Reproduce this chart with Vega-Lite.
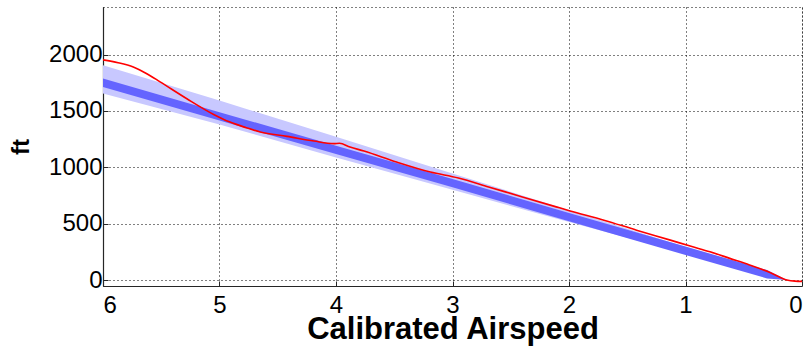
{
  "$schema": "https://vega.github.io/schema/vega-lite/v6.json",
  "width": 699,
  "height": 279,
  "autosize": {"type": "none"},
  "padding": {"left": 103, "top": 7, "right": 7, "bottom": 65},
  "background": "white",
  "config": {
    "font": "Liberation Sans",
    "view": {"stroke": "#000000", "strokeDash": [1, 3], "strokeWidth": 1},
    "axis": {
      "grid": true,
      "gridColor": "#000000",
      "gridDash": [1, 3],
      "gridOpacity": 1,
      "gridWidth": 1,
      "domainColor": "#262626",
      "domainWidth": 1.2,
      "tickColor": "#262626",
      "tickSize": -5,
      "labelFontSize": 24,
      "labelColor": "#000000",
      "titleFontWeight": "bold",
      "titleColor": "#000000",
      "format": "d"
    }
  },
  "datasets": {
    "band": [
      {"x": 6, "lo": 1655, "hi": 1905},
      {"x": 5, "lo": 1380, "hi": 1592},
      {"x": 4, "lo": 1088, "hi": 1270},
      {"x": 3, "lo": 800, "hi": 945},
      {"x": 2, "lo": 515, "hi": 620},
      {"x": 1, "lo": 235, "hi": 292},
      {"x": 0.5, "lo": 95, "hi": 130},
      {"x": 0.12, "lo": 0, "hi": 0}
    ],
    "dark": [
      {"x": 6, "lo": 1713, "hi": 1787},
      {"x": 5, "lo": 1415, "hi": 1489},
      {"x": 4, "lo": 1117, "hi": 1191},
      {"x": 3, "lo": 822, "hi": 896},
      {"x": 2, "lo": 521, "hi": 595},
      {"x": 1, "lo": 223, "hi": 297},
      {"x": 0.3, "lo": 14, "hi": 88},
      {"x": 0.13, "lo": 0, "hi": 0}
    ],
    "red": [
      {"x": 6, "y": 1953},
      {"x": 5.87, "y": 1928},
      {"x": 5.74, "y": 1890},
      {"x": 5.62, "y": 1828},
      {"x": 5.51, "y": 1758},
      {"x": 5.28, "y": 1608},
      {"x": 5.05, "y": 1469},
      {"x": 4.91, "y": 1401},
      {"x": 4.77, "y": 1351},
      {"x": 4.65, "y": 1313},
      {"x": 4.42, "y": 1274},
      {"x": 4.19, "y": 1233},
      {"x": 4.02, "y": 1210},
      {"x": 3.97, "y": 1213},
      {"x": 3.88, "y": 1180},
      {"x": 3.76, "y": 1144},
      {"x": 3.48, "y": 1047},
      {"x": 3.19, "y": 958},
      {"x": 2.95, "y": 905},
      {"x": 2.69, "y": 826},
      {"x": 2.4, "y": 737},
      {"x": 2.11, "y": 649},
      {"x": 1.99, "y": 613},
      {"x": 1.7, "y": 531},
      {"x": 1.42, "y": 442},
      {"x": 1.13, "y": 354},
      {"x": 0.96, "y": 301},
      {"x": 0.79, "y": 251},
      {"x": 0.62, "y": 192},
      {"x": 0.45, "y": 133},
      {"x": 0.27, "y": 65},
      {"x": 0.13, "y": 0},
      {"x": 0.06, "y": -10},
      {"x": 0, "y": -12}
    ]
  },
  "layer": [
    {
      "data": {"name": "band"},
      "mark": {"type": "area", "color": "#c8c8ff", "opacity": 1, "clip": true},
      "encoding": {
        "x": {
          "field": "x", "type": "quantitative",
          "scale": {"domain": [0, 6], "reverse": true, "nice": false},
          "axis": {"values": [0, 1, 2, 3, 4, 5, 6], "title": "Calibrated Airspeed", "titleFontSize": 31, "labelPadding": 12, "titlePadding": -3}
        },
        "y": {
          "field": "lo", "type": "quantitative",
          "scale": {"domain": [-53, 2422], "nice": false, "zero": false},
          "axis": {"values": [0, 500, 1000, 1500, 2000], "title": "ft", "titleFontSize": 24, "labelPadding": 6, "titlePadding": 15}
        },
        "y2": {"field": "hi"}
      }
    },
    {
      "data": {"name": "dark"},
      "mark": {"type": "area", "color": "#6464ff", "opacity": 1, "clip": true},
      "encoding": {
        "x": {"field": "x", "type": "quantitative"},
        "y": {"field": "lo", "type": "quantitative"},
        "y2": {"field": "hi"}
      }
    },
    {
      "data": {"name": "red"},
      "mark": {"type": "line", "color": "#ff0000", "strokeWidth": 1.6, "interpolate": "monotone", "clip": true},
      "encoding": {
        "x": {"field": "x", "type": "quantitative"},
        "y": {"field": "y", "type": "quantitative"}
      }
    }
  ]
}
